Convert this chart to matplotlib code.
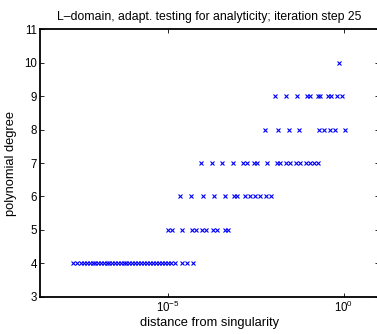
import numpy as np
import matplotlib
matplotlib.use("Agg")
import matplotlib.pyplot as plt
from matplotlib.ticker import FixedLocator, NullLocator

plt.rcParams['font.family'] = ['Liberation Sans', 'DejaVu Sans']
plt.rcParams['mathtext.fontset'] = 'custom'
plt.rcParams['mathtext.rm'] = 'Liberation Sans'
plt.rcParams['mathtext.it'] = 'Liberation Sans:italic'

# log10 of distance from singularity, grouped by polynomial degree
logd_deg4 = [-7.712, -7.598, -7.484, -7.399, -7.313, -7.228, -7.143, -7.086, -7.000,
             -6.915, -6.830, -6.744, -6.687, -6.602, -6.517, -6.431, -6.346, -6.261,
             -6.204, -6.118, -6.033, -5.948, -5.862, -5.777, -5.692, -5.606, -5.521,
             -5.435, -5.350, -5.265, -5.179, -5.094, -5.009, -4.923, -4.809, -4.610,
             -4.468, -4.297]
logd_deg5 = [-5.009, -4.895, -4.610, -4.326, -4.212, -4.041, -3.927, -3.728, -3.614,
             -3.386, -3.301]
logd_deg6 = [-4.667, -4.354, -4.013, -3.700, -3.386, -3.130, -3.045, -2.817, -2.675,
             -2.533, -2.391, -2.220, -2.078]
logd_deg7 = [-4.069, -3.756, -3.472, -3.159, -2.874, -2.760, -2.561, -2.476, -2.191,
             -1.907, -1.822, -1.651, -1.537, -1.366, -1.252, -1.081, -0.967, -0.853,
             -0.740]
logd_deg8 = [-2.248, -1.878, -1.565, -1.280, -0.711, -0.568, -0.398, -0.256, 0.029]
logd_deg9 = [-1.964, -1.651, -1.338, -1.053, -0.967, -0.740, -0.683, -0.455, -0.370,
             -0.199, -0.057]
logd_deg10 = [-0.142]

groups = [(4, logd_deg4), (5, logd_deg5), (6, logd_deg6), (7, logd_deg7),
          (8, logd_deg8), (9, logd_deg9), (10, logd_deg10)]

title = "L\u2013domain, adapt. testing for analyticity; iteration step 25"
xlabel = "distance from singularity"
ylabel = "polynomial degree"
yticks = [3, 4, 5, 6, 7, 8, 9, 10, 11]
xticks = [1e-5, 1e0]
xtick_labels = [r"$10^{-5}$", r"$10^{0}$"]

fig = plt.figure(figsize=(3.77, 3.34), dpi=100)
ax = fig.add_axes([40/377, (334-296.7)/334, (379-40)/377, (296.7-29.3)/334])

for deg, logd in groups:
    x = 10.0 ** np.array(logd)
    y = np.full(len(x), deg)
    ax.plot(x, y, linestyle='none', marker='x', color='#0000ff',
            markersize=2.8, markeredgewidth=0.8)

ax.set_xscale('log')
ax.set_xlim(10 ** -8.65, 10 ** 1)
ax.set_ylim(3, 11)
ax.xaxis.set_major_locator(FixedLocator(xticks))
ax.set_xticklabels(xtick_labels)
ax.xaxis.set_minor_locator(NullLocator())
ax.set_yticks(yticks)

for s in ax.spines.values():
    s.set_linewidth(1.3)
ax.tick_params(direction='in', top=True, right=True, length=3, width=0.6,
               labelsize=8.3, pad=2)

ax.set_title(title, fontsize=8.8, pad=7)
ax.set_xlabel(xlabel, fontsize=9.3, labelpad=2)
ax.set_ylabel(ylabel, fontsize=9.3, labelpad=5)

fig.savefig("out.png", dpi=100)
